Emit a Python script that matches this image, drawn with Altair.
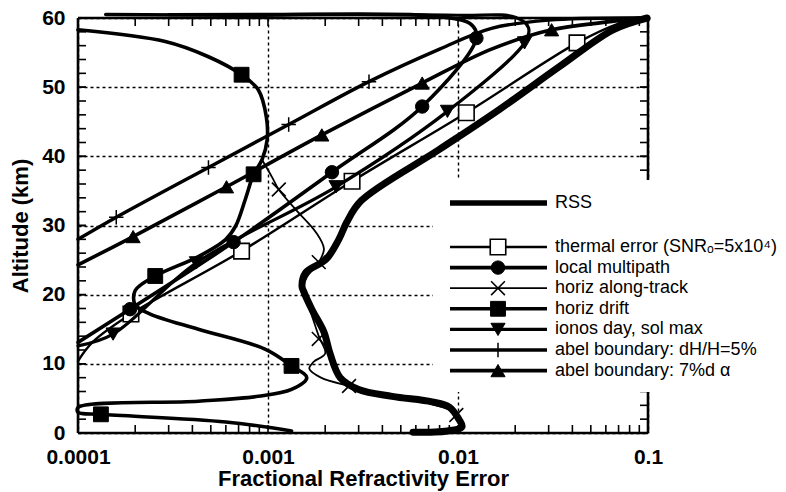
import altair as alt
import pandas as pd

# ---------------------------------------------------------------------------
# Layout of the plot area (pixels)
# ---------------------------------------------------------------------------
W, H = 570, 415
PAD_L, PAD_T, PAD_R, PAD_B = 78, 18, 138, 59

FONT = "Liberation Sans"

# ---------------------------------------------------------------------------
# Curves: fractional refractivity error (x) versus altitude in km (y)
# ---------------------------------------------------------------------------
rss_x = [0.099, 0.0655, 0.0343, 0.01655, 0.00798, 0.0031, 0.0026,
         0.00236, 0.00202, 0.00158, 0.00151, 0.00155, 0.0017, 0.00197, 0.00212,
         0.0024, 0.003, 0.0045, 0.0073, 0.009, 0.0101, 0.0105, 0.0088, 0.0058]
rss_alt = [60.0, 58.3, 53.0, 46.8, 41.0, 33.6, 30.5,
           28.0, 25.1, 23.2, 21.2, 20.3, 17.9, 14.6, 11.5,
           8.0, 6.3, 5.3, 4.5, 3.75, 2.0, 0.9, 0.3, 0.1]

thermal_x = [0.0001, 0.00012, 0.00019, 0.000726, 0.00277, 0.01107, 0.0423, 0.07, 0.092]
thermal_alt = [10.4, 13.2, 17.2, 26.3, 36.4, 46.3, 56.4, 59.2, 60.0]
thermal_mx = [0.00019, 0.000726, 0.00277, 0.01107, 0.0423]
thermal_malt = [17.2, 26.3, 36.4, 46.3, 56.4]

multipath_x = [0.0001, 0.000188, 0.000659, 0.00217, 0.00648, 0.0125, 0.0118, 0.008, 0.0006, 0.00014]
multipath_alt = [13.1, 17.9, 27.6, 37.7, 47.2, 57.1, 59.0, 60.2, 60.4, 60.5]
multipath_mx = [0.000188, 0.000659, 0.00217, 0.00648, 0.0125]
multipath_malt = [17.9, 27.6, 37.7, 47.2, 57.1]

along_x = [0.00093, 0.00105, 0.00114, 0.0014, 0.00179, 0.00197, 0.00185, 0.0016,
           0.00152, 0.00165, 0.00185, 0.002, 0.00174, 0.00165, 0.0019, 0.00267,
           0.0045, 0.007, 0.0098, 0.0105]
along_alt = [39.5, 37.0, 35.2, 32.3, 29.0, 26.6, 24.7, 22.5,
             20.5, 18.0, 14.0, 11.5, 10.3, 9.3, 8.0, 6.8,
             5.4, 4.3, 2.8, 1.0]
along_mx = [0.00114, 0.00185, 0.00185, 0.00267, 0.0098]
along_malt = [35.2, 24.7, 13.6, 6.8, 2.6]

drift_x = [0.0001, 0.000288, 0.000486, 0.000726, 0.00089, 0.00098, 0.00099, 0.00093,
           0.00084, 0.00076, 0.000675, 0.0006, 0.00043, 0.000255, 0.0002, 0.0002,
           0.00024, 0.00043, 0.00097, 0.00133, 0.0016, 0.00133, 0.00089, 0.00043,
           0.0001, 0.0001, 0.000132, 0.0006, 0.00133]
drift_alt = [58.3, 56.6, 54.4, 51.8, 49.6, 45.7, 42.4, 39.5,
             37.4, 33.8, 29.9, 28.0, 25.5, 22.7, 20.6, 18.5,
             17.2, 15.0, 12.1, 9.7, 8.0, 6.3, 5.3, 4.6,
             3.7, 3.0, 2.7, 1.6, 0.3]
drift_mx = [0.000726, 0.00084, 0.000255, 0.00133, 0.000132]
drift_malt = [51.8, 37.4, 22.7, 9.7, 2.7]

ionos_x = [0.0001, 0.000153, 0.00042, 0.00228, 0.0088, 0.0224, 0.0235, 0.02, 0.01, 0.0003]
ionos_alt = [12.6, 14.3, 24.6, 35.6, 46.5, 56.4, 58.6, 60.1, 60.4, 60.5]
ionos_mx = [0.000153, 0.00042, 0.00228, 0.0088, 0.0224]
ionos_malt = [14.3, 24.6, 35.6, 46.5, 56.4]

abel_dh_x = [0.0001, 0.000159, 0.000486, 0.001285, 0.0034, 0.008, 0.015, 0.03, 0.09]
abel_dh_alt = [28.0, 31.2, 38.4, 44.6, 50.8, 55.5, 58.5, 59.7, 60.0]
abel_dh_mx = [0.000159, 0.000486, 0.001285, 0.0034]
abel_dh_malt = [31.2, 38.4, 44.6, 50.8]

abel_da_x = [0.0001, 0.000195, 0.000605, 0.00192, 0.00648, 0.015, 0.0311, 0.06, 0.09]
abel_da_alt = [24.3, 28.4, 35.6, 43.1, 50.6, 55.5, 58.3, 59.4, 60.0]
abel_da_mx = [0.000195, 0.000605, 0.00192, 0.00648, 0.0311]
abel_da_malt = [28.4, 35.6, 43.1, 50.6, 58.3]

# Axis ticks
x_major = [0.0001, 0.001, 0.01, 0.1]
x_minor = [m * d for d in (0.0001, 0.001, 0.01) for m in range(2, 10)] + [0.001, 0.01]
y_major = [0, 10, 20, 30, 40, 50, 60]
y_minor = list(range(2, 60, 2))

# Marker shapes
X_SHAPE = "M-1,-1L1,1M-1,1L1,-1"
PLUS_SHAPE = "M-1,0L1,0M0,-1L0,1"

# ---------------------------------------------------------------------------
# Shared scales / axes
# ---------------------------------------------------------------------------
xscale = alt.Scale(type="log", domain=[0.0001, 0.1], nice=False)
yscale = alt.Scale(domain=[0, 60], nice=False, zero=False)

xaxis = alt.Axis(values=x_major, format=".4~f", grid=True, gridDash=[3, 3],
                 gridColor="black", gridWidth=1.4, gridOpacity=1,
                 ticks=False, tickSize=0, domain=False, labelFlush=False,
                 labelOverlap=False, labelFont=FONT, labelFontSize=21,
                 labelFontWeight="bold", labelColor="black", labelPadding=13,
                 title="Fractional Refractivity Error", titleFont=FONT,
                 titleFontSize=22, titleFontWeight="bold", titleColor="black",
                 titlePadding=1)
yaxis = alt.Axis(values=y_major, grid=True, gridDash=[3, 3], gridColor="black",
                 gridWidth=1.4, gridOpacity=1, ticks=False, tickSize=0,
                 domain=False, labelFlush=False, labelOverlap=False,
                 labelFont=FONT, labelFontSize=21, labelFontWeight="bold",
                 labelColor="black", labelPadding=13,
                 title="Altitude (km)", titleFont=FONT, titleFontSize=22,
                 titleFontWeight="bold", titleColor="black", titlePadding=9)


def X():
    return alt.X("x:Q", scale=xscale, axis=xaxis)


def Y():
    return alt.Y("alt:Q", scale=yscale, axis=yaxis)


def curve(xs, ys, width):
    df = pd.DataFrame({"x": xs, "alt": ys, "i": list(range(len(xs)))})
    return alt.Chart(df).mark_line(
        color="black", strokeWidth=width, interpolate="catmull-rom",
        strokeJoin="round", strokeCap="round"
    ).encode(x=X(), y=Y(), order="i:Q")


def symbol_props(shape, fill, size, sw):
    return dict(shape=shape, size=size, stroke="black", strokeWidth=sw,
                fill=fill, opacity=1, fillOpacity=1)


def markers(xs, ys, shape, fill, size, sw):
    df = pd.DataFrame({"x": xs, "alt": ys})
    return alt.Chart(df).mark_point(**symbol_props(shape, fill, size, sw)).encode(x=X(), y=Y())


# Series table: label, line data, marker data and drawing style
series = [
    ("thermal error (SNR\u2092=5x10\u2074)", thermal_x, thermal_alt, thermal_mx, thermal_malt,
     2.4, "square", "white", 240, 1.6),
    ("local  multipath", multipath_x, multipath_alt, multipath_mx, multipath_malt,
     3.6, "circle", "black", 180, 1),
    ("horiz along-track", along_x, along_alt, along_mx, along_malt,
     1.8, X_SHAPE, "none", 190, 1.6),
    ("horiz drift", drift_x, drift_alt, drift_mx, drift_malt,
     3.6, "square", "black", 220, 1),
    ("ionos day, sol max", ionos_x, ionos_alt, ionos_mx, ionos_malt,
     3.2, "triangle-down", "black", 200, 1),
    ("abel boundary: dH/H=5%", abel_dh_x, abel_dh_alt, abel_dh_mx, abel_dh_malt,
     3.4, PLUS_SHAPE, "none", 210, 1.5),
    ("abel boundary: 7%d  \u03b1", abel_da_x, abel_da_alt, abel_da_mx, abel_da_malt,
     3.6, "triangle-up", "black", 200, 1),
]

layers = []
for label, lx, ly, mx, my, lw, shape, fill, size, sw in series:
    layers.append(curve(lx, ly, lw))
    layers.append(markers(mx, my, shape, fill, size, sw))
layers.append(curve(rss_x, rss_alt, 7))

# Inward ticks on all four sides
TICK = 8
xt = pd.DataFrame({"x": x_minor})
yt = pd.DataFrame({"alt": y_minor + y_major})
tick_style = dict(color="black", strokeWidth=1.6)
layers.append(alt.Chart(xt).mark_rule(**tick_style).encode(
    x=X(), y=alt.value(H), y2=alt.value(H - TICK)))
layers.append(alt.Chart(xt).mark_rule(**tick_style).encode(
    x=X(), y=alt.value(0), y2=alt.value(TICK)))
layers.append(alt.Chart(yt).mark_rule(**tick_style).encode(
    y=Y(), x=alt.value(0), x2=alt.value(TICK)))
layers.append(alt.Chart(yt).mark_rule(**tick_style).encode(
    y=Y(), x=alt.value(W), x2=alt.value(W - TICK)))

# Frame around the plot area
one = pd.DataFrame({"k": [0]})
frame = dict(color="black", strokeWidth=2.6)
layers.append(alt.Chart(one).mark_rule(**frame).encode(x=alt.value(0), y=alt.value(0), y2=alt.value(H)))
layers.append(alt.Chart(one).mark_rule(**frame).encode(x=alt.value(W), y=alt.value(0), y2=alt.value(H)))
layers.append(alt.Chart(one).mark_rule(**frame).encode(y=alt.value(0), x=alt.value(0), x2=alt.value(W)))
layers.append(alt.Chart(one).mark_rule(**frame).encode(y=alt.value(H), x=alt.value(0), x2=alt.value(W)))

# Legend: white panel, then one row per curve
LEG_X0, LEG_X1 = 355, 708
LEG_Y0, LEG_Y1 = 162, 374
LINE_X0, LINE_X1, SYM_X, TEXT_X = 372, 469, 420, 477
RSS_Y, ROW0_Y, ROW_STEP = 185, 229, 20.6

layers.append(alt.Chart(one).mark_rect(fill="white", stroke=None).encode(
    x=alt.value(LEG_X0), x2=alt.value(LEG_X1), y=alt.value(LEG_Y0), y2=alt.value(LEG_Y1)))

legend_text = dict(font=FONT, fontSize=18, color="black", align="left", baseline="middle")


def legend_row(label, y, lw, shape=None, fill=None, size=None, sw=None):
    d = pd.DataFrame({"label": [label]})
    row = [alt.Chart(d).mark_rule(color="black", strokeWidth=lw).encode(
        x=alt.value(LINE_X0), x2=alt.value(LINE_X1), y=alt.value(y))]
    if shape is not None:
        row.append(alt.Chart(d).mark_point(**symbol_props(shape, fill, size, sw)).encode(
            x=alt.value(SYM_X), y=alt.value(y)))
    row.append(alt.Chart(d).mark_text(**legend_text).encode(
        x=alt.value(TEXT_X), y=alt.value(y), text="label:N"))
    return row


layers += legend_row("RSS", RSS_Y, 5.5)
for k, (label, lx, ly, mx, my, lw, shape, fill, size, sw) in enumerate(series):
    layers += legend_row(label, ROW0_Y + k * ROW_STEP, lw, shape, fill, size, sw)

chart = alt.layer(*layers).properties(
    width=W, height=H,
    autosize=alt.AutoSizeParams(type="none"),
    padding={"left": PAD_L, "top": PAD_T, "right": PAD_R, "bottom": PAD_B},
    background="white",
).configure_view(stroke=None)

chart.save("out.html", embed_options={"renderer": "svg", "actions": False})
